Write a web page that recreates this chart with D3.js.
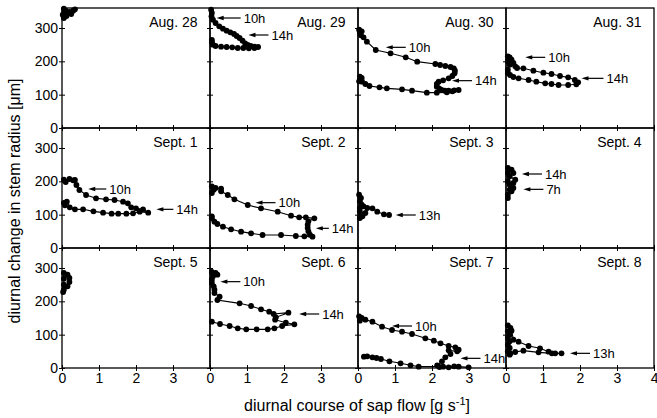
<!DOCTYPE html>
<html><head><meta charset="utf-8">
<script src="https://cdn.jsdelivr.net/npm/d3@7"></script>
<style>body{margin:0;background:#fff}svg{display:block}</style>
</head><body><svg id="c" width="657" height="418"></svg>
<script>
const dates = ["Aug. 28","Aug. 29","Aug. 30","Aug. 31","Sept. 1","Sept. 2","Sept. 3","Sept. 4","Sept. 5","Sept. 6","Sept. 7","Sept. 8"];
const radiusTicks = [0,100,200,300];
const flowTicks = [0,1,2,3,4];

const aug28 = [[0.05,358],[0.1,352],[0.2,348],[0.3,352],[0.35,356],[0.25,342],[0.12,336],[0.05,330],[0.02,340],[0.06,348]];
const aug29 = [[0.03,355],[0.05,345],[0.04,335],[0.08,325],[0.15,315],[0.25,305],[0.35,298],[0.45,292],[0.55,287],[0.65,282],[0.72,276],[0.8,270],[0.88,262],[0.95,254],[1.02,249],[1.1,246],[1.2,244],[1.3,243],[1.2,240],[1.05,239],[0.9,240],[0.75,240],[0.6,242],[0.45,243],[0.3,244],[0.15,246],[0.08,250],[0.05,258],[0.05,264]];
const aug30 = [[0.03,295],[0.05,285],[0.1,290],[0.08,278],[0.15,272],[0.24,259],[0.48,234],[0.88,224],[1.29,212],[1.6,199],[2.09,192],[2.22,189],[2.36,186],[2.5,183],[2.59,179],[2.62,172],[2.61,164],[2.55,156],[2.45,149],[2.3,143],[2.18,139],[2.13,132],[2.13,124],[2.2,118],[2.26,114],[2.35,112],[2.45,112],[2.6,113],[2.72,114],[2.55,110],[2.4,107],[2.13,106],[1.86,106],[1.46,112],[1.19,116],[0.78,119],[0.58,122],[0.31,126],[0.2,132],[0.11,139],[0.07,147],[0.05,154],[0.1,150],[0.03,140]];
const aug31 = [[0.05,215],[0.1,212],[0.05,200],[0.15,205],[0.2,195],[0.1,190],[0.25,185],[0.3,180],[0.47,179],[0.74,172],[1.01,166],[1.23,162],[1.46,156],[1.68,152],[1.86,144],[1.95,137],[1.9,131],[1.68,129],[1.42,129],[1.23,132],[1.06,134],[0.82,139],[0.61,144],[0.34,149],[0.2,153],[0.11,159],[0.05,165],[0.05,175]];
const sep1 = [[0.05,205],[0.1,198],[0.2,207],[0.3,203],[0.35,204],[0.39,189],[0.47,174],[0.65,159],[0.92,149],[1.19,146],[1.42,144],[1.65,139],[1.78,134],[1.87,122],[2.0,119],[2.19,116],[2.33,106],[2.1,109],[1.92,104],[1.74,103],[1.52,103],[1.34,103],[1.11,106],[0.85,110],[0.57,116],[0.35,116],[0.21,122],[0.13,139],[0.05,135],[0.08,128]];
const sep2 = [[0.05,185],[0.1,175],[0.05,165],[0.15,180],[0.3,178],[0.3,170],[0.48,159],[0.66,146],[1.02,129],[1.38,119],[1.83,109],[2.19,97],[2.41,92],[2.59,92],[2.82,89],[2.66,80],[2.64,70],[2.64,60],[2.66,50],[2.7,40],[2.77,34],[2.55,35],[2.32,36],[1.92,39],[1.42,39],[1.11,44],[0.84,49],[0.57,56],[0.35,64],[0.2,72],[0.12,79],[0.05,89],[0.05,95]];
const sep3 = [[0.03,160],[0.08,150],[0.05,140],[0.1,130],[0.05,120],[0.15,125],[0.05,110],[0.1,100],[0.05,90],[0.12,95],[0.2,105],[0.25,120],[0.39,119],[0.52,109],[0.7,101],[0.84,99]];
const sep4 = [[0.05,240],[0.15,235],[0.2,225],[0.1,215],[0.25,205],[0.2,195],[0.1,190],[0.2,180],[0.15,170],[0.05,160],[0.05,150],[0.1,175],[0.05,200],[0.05,225]];
const sep5 = [[0.05,285],[0.15,280],[0.2,270],[0.2,258],[0.15,245],[0.05,235],[0.03,228],[0.05,250],[0.05,268]];
const sep6 = [[0.05,288],[0.15,285],[0.2,280],[0.08,275],[0.05,265],[0.05,255],[0.1,245],[0.12,235],[0.12,225],[0.26,214],[0.2,204],[0.8,194],[1.11,186],[1.38,176],[1.6,169],[1.72,162],[2.12,166],[1.78,152],[1.76,145],[2.05,136],[2.28,131],[1.95,126],[1.74,119],[1.56,116],[1.26,116],[0.98,116],[0.75,119],[0.53,126],[0.27,132],[0.05,139]];
const sep7 = [[0.03,155],[0.1,150],[0.05,142],[0.2,145],[0.39,139],[0.65,124],[0.92,114],[1.19,109],[1.46,102],[1.82,89],[2.05,82],[2.23,74],[2.45,66],[2.63,62],[2.72,55],[2.68,50],[2.45,53],[2.5,42],[2.36,32],[2.27,20],[2.14,8],[2.2,3],[2.45,2],[2.72,4],[2.99,2],[2.6,5],[2.3,4],[1.64,4],[1.42,8],[1.15,14],[0.85,20],[0.62,27],[0.5,30],[0.39,32],[0.25,35],[0.16,34]];
const sep8 = [[0.1,40],[0.05,50],[0.1,60],[0.05,70],[0.1,80],[0.05,90],[0.1,100],[0.05,110],[0.12,120],[0.05,128],[0.15,112],[0.2,85],[0.34,79],[0.61,66],[0.92,59],[1.15,49],[1.33,44],[1.5,44],[1.24,44],[0.88,47],[0.47,52],[0.25,48],[0.12,44]];
const series = [aug28,aug29,aug30,aug31,sep1,sep2,sep3,sep4,sep5,sep6,sep7,sep8];

const arrowPanel = [1,1,2,2,3,3,4,4,5,5,6,7,7,9,9,10,10,11];
const arrowFlow  = [0.18,1.04,0.75,2.54,0.52,2.04,0.71,2.55,1.23,2.86,1.02,0.43,0.47,0.28,2.41,0.92,2.77,1.73];
const arrowRadius= [330,279,242,142,212,149,177,116,136,59,99,222,176,259,162,126,29,44];
const arrowLabel = ["10h","14h","10h","14h","10h","14h","10h","14h","10h","14h","13h","14h","7h","10h","14h","10h","14h","13h"];
const arrowLen   = [24,20,20,20,20,22,18,17,20,13,20,20,20,20,20,20,20,20];

const svg = d3.select("#c");
const FONT = "'Liberation Sans', Arial, Helvetica, sans-serif";
const mLeft = 62, mTop = 8, pw = 148, ph = 120;
const x = d3.scaleLinear().domain([0,4]).range([0,pw]);
const y = d3.scaleLinear().domain([0,360]).range([ph,0]);
const line = d3.line().x(d=>x(d[0])).y(d=>y(d[1]));
const panels = [];

dates.forEach((name,i)=>{
  const col = i%4, row = Math.floor(i/4);
  const g = svg.append("g").attr("transform",`translate(${mLeft+col*pw},${mTop+row*ph})`);
  panels.push(g);
  g.append("path").datum(series[i]).attr("d",line).attr("fill","none").attr("stroke","#000").attr("stroke-width",1.1);
  g.append("g").selectAll("circle").data(series[i]).join("circle")
    .attr("cx",d=>x(d[0])).attr("cy",d=>y(d[1])).attr("r",2.9).attr("fill","#000");
  g.append("rect").attr("width",pw).attr("height",ph).attr("fill","none").attr("stroke","#000").attr("stroke-width",1.3);

  const ya = g.append("g").call(d3.axisLeft(y).tickValues(radiusTicks).tickSize(3).tickPadding(1)
      .tickFormat(col===0 ? d3.format("d") : ()=>""));
  ya.select(".domain").remove();
  ya.attr("font-size",14).attr("font-family",FONT);
  const yi = g.append("g").call(d3.axisRight(y).tickValues(radiusTicks).tickSize(3).tickFormat(()=>""));
  yi.select(".domain").remove();

  const xt = col===3 ? flowTicks : flowTicks.slice(0,4);
  const xa = g.append("g").attr("transform",`translate(0,${ph})`)
    .call(d3.axisBottom(x).tickValues(xt).tickSize(3).tickPadding(2)
      .tickFormat(row===2 ? d3.format("d") : ()=>""));
  xa.select(".domain").remove();
  xa.attr("font-size",14).attr("font-family",FONT);
  xa.selectAll(".tick text").filter(d=>d===4).attr("text-anchor","end").attr("dx",4);
  const xi = g.append("g").attr("transform",`translate(0,${ph})`)
    .call(d3.axisTop(x).tickValues(xt).tickSize(3).tickFormat(()=>""));
  xi.select(".domain").remove();

  g.append("text").attr("x",pw-12.5).attr("y",19).attr("text-anchor","end")
    .attr("font-family",FONT).attr("font-size",14).text(name);
});

arrowPanel.forEach((p,k)=>{
  const g = panels[p];
  const tx = x(arrowFlow[k]), ty = y(arrowRadius[k]);
  const len = arrowLen[k];
  g.append("line").attr("x1",tx+5).attr("y1",ty).attr("x2",tx+len).attr("y2",ty)
    .attr("stroke","#000").attr("stroke-width",1.2);
  g.append("path").attr("d",`M${tx},${ty}L${tx+7},${ty-2.2}L${tx+7},${ty+2.2}Z`).attr("fill","#000");
  g.append("text").attr("x",tx+len+3).attr("y",ty).attr("dy","0.36em")
    .attr("font-family",FONT).attr("font-size",13).text(arrowLabel[k]);
});

svg.append("text").attr("transform","translate(20,201) rotate(-90)").attr("text-anchor","middle")
  .attr("font-family",FONT).attr("font-size",16).text("diurnal change in stem radius [μm]");

const xl = svg.append("text").attr("x",357).attr("y",411).attr("text-anchor","middle")
  .attr("font-family",FONT).attr("font-size",16);
xl.append("tspan").text("diurnal course of sap flow [g s");
xl.append("tspan").attr("dy",-6).attr("font-size",11).text("-1");
xl.append("tspan").attr("dy",6).text("]");
</script>
</body></html>
